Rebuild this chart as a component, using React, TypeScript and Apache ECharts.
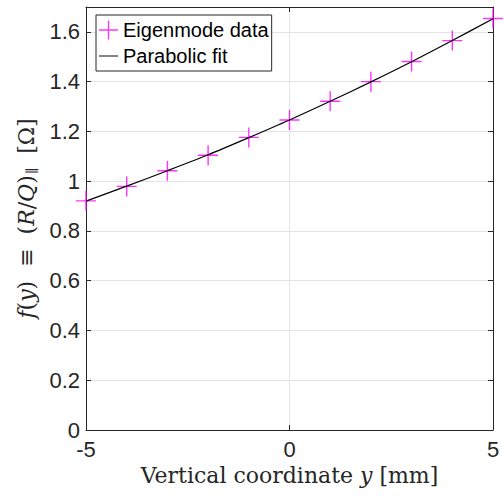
import React, { useEffect, useRef } from "react";
import * as echarts from "echarts";

const xValues = [-5, -4, -3, -2, -1, 0, 1, 2, 3, 4, 5];
const eigenmodeData = [0.921, 0.979, 1.042, 1.104, 1.176, 1.246, 1.321, 1.4, 1.481, 1.565, 1.654];
const parabolicFit = [0.92, 0.98, 1.042, 1.106, 1.175, 1.246, 1.321, 1.399, 1.48, 1.565, 1.653];
const seriesNames = ["Eigenmode data", "Parabolic fit"];

const PLUS = "path://M9.3,0H10.7V9.3H20V10.7H10.7V20H9.3V10.7H0V9.3H9.3Z";
const DASH = "path://M0,0H20V1H0Z";

export default function App() {
  const ref = useRef<HTMLDivElement>(null);
  useEffect(() => {
    if (!ref.current) return;
    const chart = echarts.init(ref.current, undefined, { renderer: "svg" });
    const axisColor = "#262626";
    const gridColor = "#e3e3e3";
    const serif = "'DejaVu Serif', 'Liberation Serif', serif";
    const sans = "'Liberation Sans', Arial, sans-serif";
    chart.setOption({
      animation: false,
      backgroundColor: "#ffffff",
      grid: { left: 86, right: 11, top: 7, bottom: 66, containLabel: false },
      legend: {
        left: 96,
        top: 15,
        orient: "vertical",
        backgroundColor: "#ffffff",
        borderColor: axisColor,
        borderWidth: 1,
        borderRadius: 0,
        padding: [5, 3, 5, 3],
        itemGap: 6,
        itemWidth: 19,
        itemHeight: 19,
        textStyle: { fontFamily: sans, fontSize: 20, color: "#000" },
        data: [
          { name: seriesNames[0], icon: PLUS, itemStyle: { color: "#ff00ff" } },
          { name: seriesNames[1], icon: DASH, itemStyle: { color: "#000000" } },
        ],
      },
      xAxis: [
        {
          type: "value",
          min: -5,
          max: 5,
          interval: 5,
          position: "bottom",
          name: "Vertical coordinate {i|y} [mm]",
          nameLocation: "middle",
          nameGap: 34,
          nameTextStyle: {
            fontFamily: serif,
            fontSize: 22,
            color: axisColor,
            rich: { i: { fontFamily: serif, fontStyle: "italic", fontSize: 22, color: axisColor } },
          },
          axisLine: { show: true, onZero: false, lineStyle: { color: axisColor, width: 1 } },
          axisTick: { show: true, inside: true, length: 5, lineStyle: { color: axisColor } },
          axisLabel: { fontFamily: sans, fontSize: 22, color: axisColor, margin: 8 },
          splitLine: { show: true, lineStyle: { color: gridColor, width: 1 } },
        },
        {
          type: "value",
          min: -5,
          max: 5,
          interval: 5,
          position: "top",
          axisLine: { show: true, onZero: false, lineStyle: { color: axisColor, width: 1 } },
          axisTick: { show: true, inside: true, length: 5, lineStyle: { color: axisColor } },
          axisLabel: { show: false },
          splitLine: { show: false },
        },
      ],
      yAxis: [
        {
          type: "value",
          min: 0,
          max: 1.7,
          interval: 0.2,
          position: "left",
          name: "{i|f}({i|y})  ≡  ({i|R}/{i|Q}){s|∥}  [Ω]",
          nameLocation: "middle",
          nameRotate: 90,
          nameGap: 42,
          nameTextStyle: {
            fontFamily: serif,
            fontSize: 22,
            color: axisColor,
            rich: {
              i: { fontFamily: serif, fontStyle: "italic", fontSize: 22, color: axisColor },
              s: { fontFamily: serif, fontSize: 14, color: axisColor, verticalAlign: "bottom", padding: [10, 0, 0, 1] },
            },
          },
          axisLine: { show: true, onZero: false, lineStyle: { color: axisColor, width: 1 } },
          axisTick: { show: true, inside: true, length: 5, lineStyle: { color: axisColor } },
          axisLabel: {
            fontFamily: sans,
            fontSize: 22,
            color: axisColor,
            margin: 6,
            showMaxLabel: false,
            formatter: (v: number) => (Math.abs(v - 1.7) < 1e-9 ? "" : String(Math.round(v * 10) / 10)),
          },
          splitLine: { show: true, lineStyle: { color: gridColor, width: 1 } },
        },
        {
          type: "value",
          min: 0,
          max: 1.7,
          interval: 0.2,
          position: "right",
          axisLine: { show: true, onZero: false, lineStyle: { color: axisColor, width: 1 } },
          axisTick: { show: true, inside: true, length: 5, lineStyle: { color: axisColor } },
          axisLabel: { show: false },
          splitLine: { show: false },
        },
      ],
      series: [
        {
          name: seriesNames[0],
          type: "scatter",
          xAxisIndex: 0,
          yAxisIndex: 0,
          symbol: PLUS,
          symbolSize: 20,
          itemStyle: { color: "#ff00ff" },
          data: xValues.map((x, i) => [x, eigenmodeData[i]]),
          z: 2,
          clip: false,
        },
        {
          name: seriesNames[1],
          type: "line",
          xAxisIndex: 0,
          yAxisIndex: 0,
          showSymbol: false,
          smooth: 0.3,
          lineStyle: { color: "#000000", width: 1.2 },
          itemStyle: { color: "#000000" },
          data: xValues.map((x, i) => [x, parabolicFit[i]]),
          z: 3,
        },
      ],
    });
    return () => chart.dispose();
  }, []);
  return <div ref={ref} style={{ width: 504, height: 496, position: "absolute", left: 0, top: 0 }} />;
}
